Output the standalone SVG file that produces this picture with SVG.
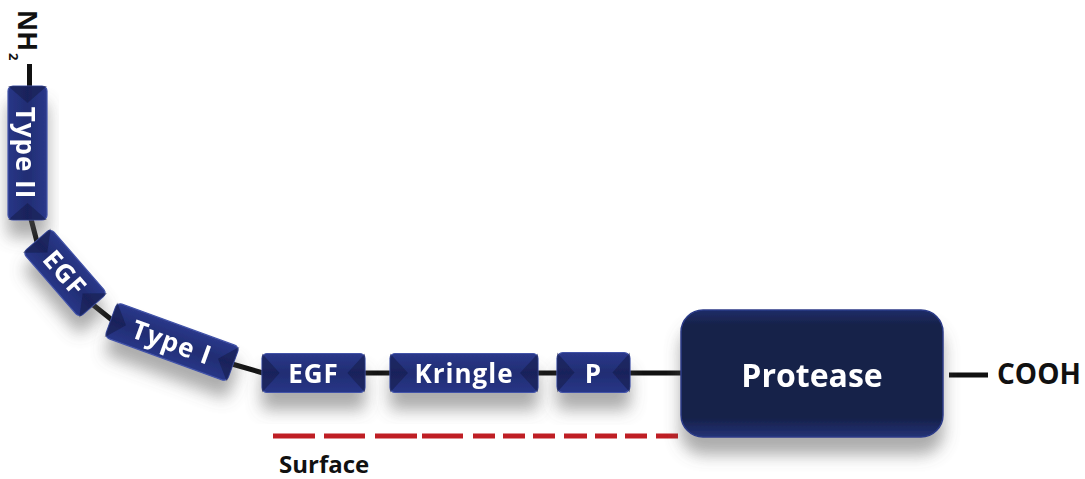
<svg xmlns="http://www.w3.org/2000/svg" width="1085" height="479" viewBox="0 0 1085 479">
  <defs>
    <linearGradient id="face" x1="0" y1="0" x2="0" y2="1">
      <stop offset="0" stop-color="#2a388a"/>
      <stop offset="0.5" stop-color="#212d73"/>
      <stop offset="1" stop-color="#283687"/>
    </linearGradient>
    <linearGradient id="bigFace" x1="0" y1="0" x2="0" y2="1">
      <stop offset="0" stop-color="#1f2c68"/>
      <stop offset="0.12" stop-color="#172249"/>
      <stop offset="0.85" stop-color="#16214a"/>
      <stop offset="1" stop-color="#243276"/>
    </linearGradient>
    <filter id="shadow" x="-30%" y="-40%" width="160%" height="220%">
      <feGaussianBlur in="SourceAlpha" stdDeviation="8"/>
      <feOffset dx="0" dy="17" result="b"/>
      <feFlood flood-color="#5a5a5a" flood-opacity="0.5"/>
      <feComposite in2="b" operator="in" result="s"/>
      <feMerge>
        <feMergeNode in="s"/>
        <feMergeNode in="SourceGraphic"/>
      </feMerge>
    </filter>
    <style>
      .face { fill: url(#face); stroke: #4253a8; stroke-width: 1.2; }
      .end { fill: #121a44; opacity: 0.5; }
      .big { fill: url(#bigFace); stroke: #2c3b88; stroke-width: 1.5; }
      .lbl { font-family: "Open Sans", "Liberation Sans", sans-serif; font-weight: 700; fill: #ffffff; text-anchor: middle; }
      .small { font-size: 26px; letter-spacing: 1px; }
      .ink { font-family: "Open Sans", "Liberation Sans", sans-serif; font-weight: 700; fill: #111111; }
      .chain { stroke: #111111; stroke-width: 5; fill: none; }
      .surface { stroke: #bf1e24; stroke-width: 5; fill: none; }
    </style>
  </defs>

  <rect width="1085" height="479" fill="#ffffff"/>

  <!-- backbone segments between domains -->
  <g id="connectors">
    <path class="chain" d="M29.5,64 V87 M31,219 L37,242 M92,304 L112,320 M232,364 L263,373 M364,373 H391 M537,373 H558 M629,373 H682 M949,375 H988"/>
  </g>

  <!-- membrane surface -->
  <g id="surface">
    <path class="surface" d="M273,436 H315 M324,436 H365 M375,436 H417 M422,436 H463 M473,436 H495 M503,436 H525 M533,436 H555 M564,436 H587 M595,436 H617 M625,436 H647 M656,436 H678"/>
    <text class="ink" x="279" y="473" font-size="24">Surface</text>
  </g>

  <!-- termini -->
  <g id="nterm">
    <text class="ink" font-size="26" transform="translate(18,10) rotate(90)">NH</text>
    <text class="ink" font-size="13" transform="translate(9,53) rotate(90)">2</text>
  </g>
  <g id="cterm">
    <text class="ink" x="997" y="384" font-size="28">COOH</text>
  </g>

  <!-- domains -->
  <g id="type2" filter="url(#shadow)">
    <g transform="translate(27.5,153) rotate(90)">
      <rect class="face" x="-67" y="-19.5" width="134" height="39" rx="5"/>
      <polygon class="end" points="-67,-19.5 -50,0 -67,19.5"/>
      <polygon class="end" points="67,-19.5 50,0 67,19.5"/>
      <text class="lbl small" x="0" y="11.5">Type II</text>
    </g>
  </g>

  <g id="egf1" filter="url(#shadow)">
    <g transform="translate(65,273) rotate(49)">
      <rect class="face" x="-43" y="-18.5" width="86" height="37" rx="5"/>
      <polygon class="end" points="-43,-18.5 -27,0 -43,18.5"/>
      <polygon class="end" points="43,-18.5 27,0 43,18.5"/>
      <text class="lbl small" x="0" y="9.5">EGF</text>
    </g>
  </g>

  <g id="type1" filter="url(#shadow)">
    <g transform="translate(172,342) rotate(20)">
      <rect class="face" x="-65" y="-18.5" width="130" height="37" rx="5"/>
      <polygon class="end" points="-65,-18.5 -49,0 -65,18.5"/>
      <polygon class="end" points="65,-18.5 49,0 65,18.5"/>
      <text class="lbl small" x="0" y="9.5">Type I</text>
    </g>
  </g>

  <g id="egf2" filter="url(#shadow)">
    <g transform="translate(313.5,373)">
      <rect class="face" x="-51.5" y="-19.5" width="103" height="39" rx="5"/>
      <polygon class="end" points="-51.5,-19.5 -34,0 -51.5,19.5"/>
      <polygon class="end" points="51.5,-19.5 34,0 51.5,19.5"/>
      <text class="lbl small" x="0" y="10">EGF</text>
    </g>
  </g>

  <g id="kringle" filter="url(#shadow)">
    <g transform="translate(464,373)">
      <rect class="face" x="-74" y="-19.5" width="148" height="39" rx="5"/>
      <polygon class="end" points="-74,-19.5 -56,0 -74,19.5"/>
      <polygon class="end" points="74,-19.5 56,0 74,19.5"/>
      <text class="lbl small" x="0" y="10">Kringle</text>
    </g>
  </g>

  <g id="p" filter="url(#shadow)">
    <g transform="translate(593.5,372.5)">
      <rect class="face" x="-36.5" y="-20" width="73" height="40" rx="6"/>
      <polygon class="end" points="-36.5,-20 -19,0 -36.5,20"/>
      <polygon class="end" points="36.5,-20 19,0 36.5,20"/>
      <text class="lbl small" x="0" y="10.5">P</text>
    </g>
  </g>

  <g id="protease" filter="url(#shadow)">
    <rect class="big" x="681" y="310" width="262" height="127" rx="22"/>
    <text class="lbl" x="812" y="387" font-size="32">Protease</text>
  </g>
</svg>
